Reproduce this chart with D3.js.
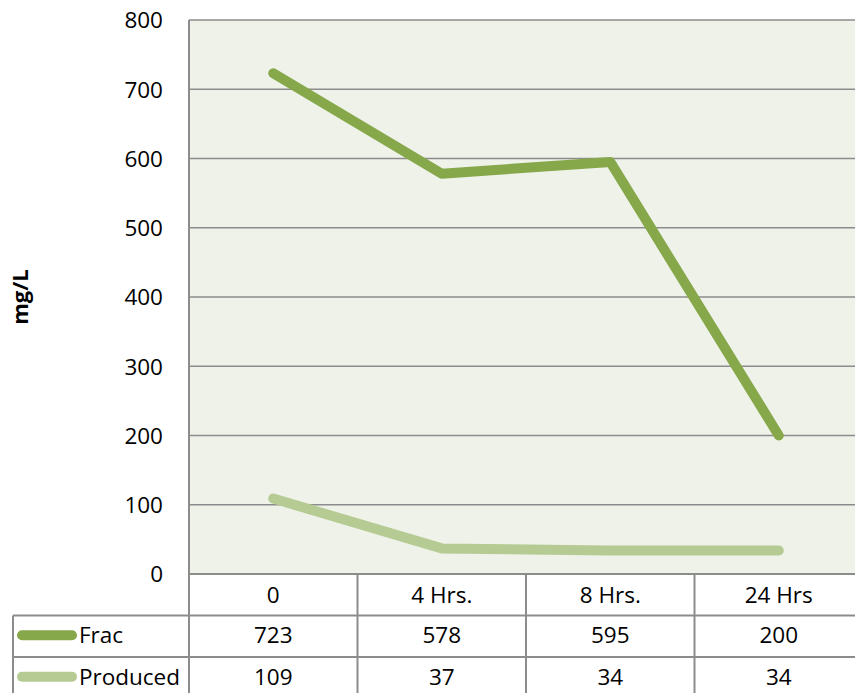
<!DOCTYPE html>
<html><head><meta charset="utf-8">
<script src="https://cdn.jsdelivr.net/npm/d3@7"></script>
<style>body{margin:0;background:#fff}svg{display:block}text{font-family:"Open Sans","Noto Sans",sans-serif;fill:#000}</style>
</head><body>
<script>
const categories = ["0", "4 Hrs.", "8 Hrs.", "24 Hrs"];
const seriesNames = ["Frac", "Produced"];
const fracValues = [723, 578, 595, 200];
const producedValues = [109, 37, 34, 34];
const yTicks = [0, 100, 200, 300, 400, 500, 600, 700, 800];
const colors = ["#86a84a", "#b5cb93"];

const W = 855, H = 693;
const pLeft = 189, pRight = 863, pTop = 20, pBottom = 574;
const FS = "22.5px";
const svg = d3.select("body").append("svg").attr("width", W).attr("height", H);

const x = d3.scaleBand().domain(categories).range([pLeft, pRight]);
const y = d3.scaleLinear().domain([0, 800]).range([pBottom, pTop]);
const grid = "#8c8c8c";

svg.append("rect").attr("x", pLeft).attr("y", pTop).attr("width", pRight - pLeft).attr("height", pBottom - pTop).attr("fill", "#eff2e9");

// gridlines
svg.append("g").selectAll("line").data(yTicks).join("line")
  .attr("x1", pLeft).attr("x2", pRight).attr("y1", d => y(d)).attr("y2", d => y(d))
  .attr("stroke", grid).attr("stroke-width", 1.5);

// y axis via d3
const yAxis = svg.append("g").attr("transform", `translate(${pLeft},0)`)
  .call(d3.axisLeft(y).tickValues(yTicks).tickSize(0).tickPadding(26));
yAxis.select(".domain").remove();
yAxis.selectAll("text").style("font-size", FS).style("font-family", "'Open Sans',sans-serif").attr("dy", "0.35em").attr("fill", "#000");

svg.append("text").attr("transform", `translate(28,${(pTop + pBottom) / 2}) rotate(-90)`)
  .attr("text-anchor", "middle").style("font-size", "22px").style("font-weight", "bold").text("mg/L");

// lines
const series = [fracValues, producedValues];
const line = d3.line().x((d, i) => x(categories[i]) + x.bandwidth() / 2).y(d => y(d));
[1, 0].forEach(k => {
  svg.append("path").attr("d", line(series[k])).attr("fill", "none")
    .attr("stroke", colors[k]).attr("stroke-width", 10).attr("stroke-linecap", "round").attr("stroke-linejoin", "round");
});

// data table
const rowH = 41.5;
const rows = [pBottom, pBottom + rowH, pBottom + 2 * rowH, pBottom + 3 * rowH];
const tLeft = 13;
const tg = svg.append("g");
tg.append("line").attr("x1", pLeft).attr("x2", pRight).attr("y1", rows[0]).attr("y2", rows[0]).attr("stroke", grid).attr("stroke-width", 2);
[1, 2, 3].forEach(r => tg.append("line").attr("x1", tLeft).attr("x2", pRight).attr("y1", rows[r]).attr("y2", rows[r]).attr("stroke", grid).attr("stroke-width", 2));
tg.append("line").attr("x1", tLeft).attr("x2", tLeft).attr("y1", rows[1]).attr("y2", H).attr("stroke", grid).attr("stroke-width", 2);
tg.append("line").attr("x1", pLeft).attr("x2", pLeft).attr("y1", pTop).attr("y2", H).attr("stroke", grid).attr("stroke-width", 2);
categories.forEach(c => {
  tg.append("line").attr("x1", x(c) + x.bandwidth()).attr("x2", x(c) + x.bandwidth()).attr("y1", rows[0]).attr("y2", H).attr("stroke", grid).attr("stroke-width", 2);
});
tg.selectAll("text.cat").data(categories).join("text").attr("class", "cat")
  .attr("x", d => x(d) + x.bandwidth() / 2).attr("y", rows[0] + rowH / 2).attr("dy", "0.35em")
  .attr("text-anchor", "middle").style("font-size", FS).text(d => d);
series.forEach((vals, k) => {
  const cy = rows[1 + k] + rowH / 2 - 1;
  tg.append("line").attr("x1", 22).attr("x2", 72).attr("y1", cy).attr("y2", cy)
    .attr("stroke", colors[k]).attr("stroke-width", 10).attr("stroke-linecap", "round");
  tg.append("text").attr("x", 79).attr("y", cy).attr("dy", "0.35em").style("font-size", FS).text(seriesNames[k]);
  tg.selectAll(null).data(vals).join("text")
    .attr("x", (d, i) => x(categories[i]) + x.bandwidth() / 2).attr("y", cy).attr("dy", "0.35em")
    .attr("text-anchor", "middle").style("font-size", FS).text(d => d);
});
</script>
</body></html>
